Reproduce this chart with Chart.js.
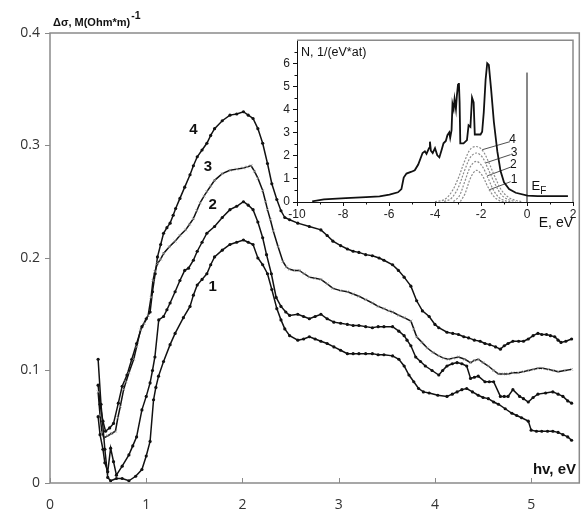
<!DOCTYPE html>
<html lang="en">
<head>
<meta charset="UTF-8">
<title>Conductivity change with DOS inset</title>
<script src="https://cdn.jsdelivr.net/npm/chart.js"></script>
<style>
    body { margin: 0; background: #ffffff; }
    .wrap { position: relative; width: 584px; height: 520px; }
    #mainChart { position: absolute; left: 0; top: 0; }
    #insetChart { position: absolute; left: 262px; top: 30px; }
</style>
</head>
<body>
<div class="wrap">
    <canvas id="mainChart" width="584" height="520"></canvas>
    <canvas id="insetChart" width="320" height="200"></canvas>
</div>
<script>
// ---- main plot data (photon energy, eV -> delta sigma) ----
const xTicks = [0, 1, 2, 3, 4, 5];
const yTicks = [0, 0.1, 0.2, 0.3, 0.4];
const yTickLabels = ['0', '0.1', '0.2', '0.3', '0.4'];

const x1 = [0.50,0.53,0.57,0.60,0.63,0.69,0.75,0.82,0.89,0.955,1.00,1.04,1.076,1.10,1.128,1.18,1.248,1.30,1.386,1.455,1.49,1.53,1.58,1.63,1.67,1.71,1.79,1.87,1.94,2.01,2.06,2.11,2.16,2.21,2.26,2.305,2.357,2.40,2.44,2.49,2.575,2.635,2.695,2.755,2.815,2.88,2.95,3.02,3.09,3.15,3.21,3.28,3.35,3.41,3.47,3.56,3.625,3.68,3.73,3.78,3.83,3.88,3.94,4.03,4.125,4.18,4.23,4.28,4.33,4.39,4.45,4.50,4.555,4.61,4.66,4.73,4.80,4.85,4.90,4.97,5.00,5.055,5.11,5.17,5.225,5.28,5.33,5.38,5.42];
const y1 = [0.110,0.070,0.030,0.005,0.002,0.004,0.004,0.002,0.006,0.012,0.024,0.037,0.074,0.085,0.095,0.108,0.123,0.133,0.147,0.157,0.167,0.176,0.181,0.186,0.194,0.201,0.207,0.212,0.214,0.216,0.214,0.212,0.200,0.194,0.186,0.172,0.155,0.145,0.137,0.131,0.127,0.128,0.130,0.128,0.126,0.124,0.121,0.118,0.115,0.115,0.115,0.115,0.115,0.114,0.114,0.113,0.110,0.104,0.096,0.090,0.084,0.081,0.080,0.078,0.077,0.079,0.081,0.083,0.084,0.081,0.078,0.076,0.075,0.072,0.070,0.066,0.062,0.060,0.058,0.055,0.047,0.046,0.046,0.046,0.046,0.045,0.043,0.041,0.038];

const x2 = [0.50,0.52,0.55,0.57,0.60,0.63,0.66,0.69,0.75,0.82,0.86,0.90,0.955,1.00,1.04,1.065,1.09,1.13,1.18,1.215,1.248,1.30,1.35,1.40,1.44,1.49,1.53,1.58,1.63,1.71,1.79,1.87,1.94,2.01,2.06,2.11,2.16,2.21,2.25,2.30,2.35,2.40,2.45,2.49,2.575,2.635,2.695,2.755,2.815,2.88,2.95,3.02,3.09,3.15,3.21,3.28,3.35,3.41,3.47,3.56,3.625,3.68,3.71,3.75,3.80,3.85,3.90,3.97,4.04,4.08,4.125,4.18,4.23,4.28,4.33,4.37,4.41,4.45,4.52,4.565,4.61,4.68,4.72,4.76,4.81,4.88,4.92,4.97,5.02,5.07,5.15,5.225,5.28,5.33,5.38,5.42];
const y2 = [0.059,0.043,0.030,0.018,0.010,0.031,0.019,0.007,0.015,0.025,0.033,0.041,0.065,0.077,0.089,0.100,0.112,0.145,0.148,0.154,0.160,0.170,0.180,0.189,0.191,0.198,0.206,0.214,0.222,0.228,0.236,0.243,0.246,0.250,0.247,0.243,0.232,0.218,0.203,0.186,0.165,0.157,0.152,0.149,0.150,0.148,0.146,0.148,0.150,0.146,0.143,0.142,0.141,0.140,0.140,0.139,0.138,0.139,0.139,0.139,0.135,0.131,0.127,0.122,0.112,0.108,0.104,0.100,0.096,0.100,0.104,0.106,0.107,0.106,0.104,0.093,0.094,0.095,0.090,0.090,0.090,0.077,0.077,0.077,0.083,0.077,0.075,0.072,0.076,0.079,0.080,0.081,0.079,0.077,0.073,0.071];

const x3 = [0.50,0.52,0.54,0.56,0.60,0.64,0.68,0.705,0.73,0.765,0.79,0.82,0.87,0.90,0.94,0.98,1.02,1.05,1.07,1.09,1.117,1.15,1.18,1.24,1.30,1.35,1.41,1.45,1.49,1.525,1.56,1.60,1.63,1.67,1.71,1.79,1.87,1.94,2.01,2.05,2.09,2.125,2.16,2.21,2.24,2.26,2.29,2.32,2.37,2.42,2.455,2.49,2.54,2.59,2.64,2.695,2.755,2.815,2.88,2.94,3.02,3.09,3.15,3.21,3.28,3.35,3.41,3.47,3.52,3.56,3.625,3.68,3.75,3.78,3.81,3.865,3.92,3.98,4.04,4.09,4.14,4.19,4.245,4.31,4.37,4.41,4.45,4.50,4.555,4.61,4.66,4.71,4.76,4.81,4.865,4.92,4.97,5.02,5.07,5.12,5.18,5.23,5.28,5.35,5.42];
const y3 = [0.081,0.060,0.045,0.040,0.042,0.044,0.046,0.058,0.068,0.083,0.090,0.098,0.110,0.121,0.136,0.142,0.149,0.165,0.180,0.188,0.195,0.199,0.204,0.210,0.215,0.220,0.225,0.230,0.235,0.242,0.249,0.255,0.259,0.264,0.269,0.275,0.278,0.279,0.280,0.281,0.282,0.277,0.271,0.260,0.250,0.243,0.234,0.224,0.210,0.197,0.192,0.190,0.189,0.189,0.186,0.183,0.182,0.181,0.177,0.173,0.171,0.170,0.168,0.166,0.163,0.160,0.157,0.155,0.153,0.152,0.149,0.147,0.144,0.137,0.130,0.125,0.120,0.116,0.113,0.111,0.110,0.111,0.112,0.110,0.107,0.109,0.110,0.107,0.104,0.100,0.097,0.097,0.097,0.098,0.098,0.099,0.100,0.101,0.102,0.102,0.101,0.100,0.099,0.100,0.101];

const x4 = [0.50,0.52,0.55,0.577,0.62,0.66,0.71,0.75,0.80,0.85,0.90,0.955,1.00,1.04,1.065,1.093,1.117,1.15,1.18,1.215,1.248,1.28,1.306,1.35,1.40,1.455,1.49,1.53,1.58,1.63,1.67,1.71,1.79,1.87,1.94,2.01,2.06,2.11,2.16,2.21,2.26,2.305,2.357,2.40,2.44,2.49,2.575,2.695,2.815,2.88,2.94,3.02,3.09,3.15,3.21,3.28,3.35,3.42,3.47,3.56,3.62,3.68,3.75,3.81,3.87,3.94,4.00,4.04,4.125,4.185,4.245,4.30,4.35,4.41,4.47,4.52,4.57,4.63,4.68,4.72,4.76,4.81,4.87,4.92,4.97,5.02,5.07,5.11,5.16,5.20,5.245,5.28,5.31,5.36,5.42];
const y4 = [0.087,0.070,0.055,0.046,0.049,0.053,0.071,0.086,0.096,0.110,0.124,0.139,0.146,0.152,0.170,0.186,0.201,0.212,0.222,0.227,0.231,0.238,0.244,0.253,0.263,0.274,0.282,0.290,0.296,0.302,0.309,0.315,0.322,0.327,0.328,0.330,0.327,0.324,0.315,0.302,0.284,0.266,0.252,0.242,0.236,0.234,0.231,0.228,0.225,0.220,0.215,0.211,0.208,0.206,0.205,0.203,0.202,0.200,0.198,0.194,0.189,0.183,0.175,0.162,0.153,0.148,0.141,0.138,0.134,0.133,0.132,0.130,0.129,0.127,0.126,0.124,0.123,0.121,0.119,0.122,0.124,0.126,0.126,0.126,0.128,0.131,0.133,0.132,0.132,0.131,0.130,0.127,0.125,0.126,0.128];

const curveLabels = ['1', '2', '3', '4'];
const curveLabelX = [1.69, 1.69, 1.64, 1.49];
const curveLabelY = [0.174, 0.247, 0.281, 0.314];

// ---- inset data (DOS, E in eV -> N) ----
const insetXTicks = [-10, -8, -6, -4, -2, 0, 2];
const insetYTicks = [0, 1, 2, 3, 4, 5, 6];
const dosE = [-9.34,-8.83,-7.88,-7.0,-6.41,-5.98,-5.61,-5.46,-5.36,-5.24,-5.02,-4.88,-4.73,-4.54,-4.44,-4.37,-4.26,-4.22,-4.18,-4.10,-4.00,-3.90,-3.81,-3.71,-3.63,-3.53,-3.46,-3.38,-3.34,-3.28,-3.24,-3.19,-3.15,-3.09,-3.05,-3.00,-2.96,-2.93,-2.90,-2.76,-2.61,-2.54,-2.46,-2.39,-2.32,-2.27,-2.02,-1.95,-1.88,-1.80,-1.73,-1.66,-1.56,-1.44,-1.29,-1.15,-1.0,-0.78,-0.49,0.02,0.46,1.78];
const dosN = [0.03,0.11,0.17,0.21,0.24,0.32,0.42,0.56,1.06,1.23,1.31,1.37,1.62,2.12,2.19,2.08,2.33,2.61,2.22,2.12,2.33,2.02,1.93,2.26,2.54,2.64,2.89,3.01,2.78,3.11,4.24,4.02,4.45,4.02,4.59,5.08,5.15,4.31,2.54,2.54,2.68,3.32,3.25,4.52,4.31,2.92,2.92,3.04,3.88,5.29,6.0,5.93,4.87,3.46,2.19,1.34,0.85,0.56,0.40,0.28,0.25,0.25];

const g4E = [-4.0,-3.6,-3.3,-3.0,-2.7,-2.45,-2.2,-1.95,-1.7,-1.4,-1.1,-0.8,-0.5,-0.25];
const g4N = [0.02,0.1,0.4,1.0,1.8,2.3,2.4,2.25,1.8,1.1,0.5,0.2,0.07,0.02];
const g3E = [-3.6,-3.3,-3.0,-2.7,-2.45,-2.2,-1.95,-1.7,-1.4,-1.1,-0.8,-0.5];
const g3N = [0.02,0.15,0.6,1.4,1.95,2.12,1.95,1.45,0.8,0.3,0.1,0.02];
const g2E = [-3.2,-2.95,-2.7,-2.45,-2.2,-1.95,-1.7,-1.45,-1.2,-0.9,-0.7];
const g2N = [0.02,0.25,0.9,1.55,1.76,1.55,1.05,0.5,0.18,0.04,0.01];
const g1E = [-2.9,-2.7,-2.45,-2.2,-1.95,-1.7,-1.45,-1.2,-0.95];
const g1N = [0.02,0.35,1.05,1.37,1.15,0.65,0.25,0.06,0.01];

const fermiE = [0, 0];
const fermiN = [0, 5.6];

// leader lines from each band to its number
const leadStartE = [-1.66, -1.73, -1.80, -1.95];
const leadStartN = [0.52, 1.13, 1.69, 2.26];
const leadEndE = [-0.71, -0.71, -0.71, -0.74];
const leadEndN = [0.88, 1.51, 2.05, 2.61];
const bandLabelE = [-0.56, -0.59, -0.56, -0.63];
const bandLabelN = [0.96, 1.6, 2.15, 2.68];

function pts(xs, ys) {
    return xs.map((x, i) => ({ x: x, y: ys[i] }));
}

// ---------------- main chart ----------------
const mainDecor = {
    id: 'mainDecor',
    afterDatasetsDraw(chart) {
        const ctx = chart.ctx;
        const a = chart.chartArea;
        const sx = chart.scales.x, sy = chart.scales.y;
        ctx.save();
        // frame
        ctx.strokeStyle = '#8a8a8a';
        ctx.lineWidth = 1.5;
        ctx.strokeRect(a.left, a.top, a.right - a.left, a.bottom - a.top);
        // inward x ticks
        ctx.lineWidth = 1;
        ctx.beginPath();
        xTicks.forEach(v => {
            const px = Math.round(sx.getPixelForValue(v)) + 0.5;
            ctx.moveTo(px, a.bottom);
            ctx.lineTo(px, a.bottom - 5);
        });
        ctx.stroke();
        // curve numbers
        ctx.fillStyle = '#111';
        ctx.font = 'bold 15px "Liberation Sans", Arial, sans-serif';
        ctx.textAlign = 'center';
        ctx.textBaseline = 'middle';
        curveLabels.forEach((t, i) => {
            ctx.fillText(t, sx.getPixelForValue(curveLabelX[i]), sy.getPixelForValue(curveLabelY[i]));
        });
        // axis titles
        ctx.textAlign = 'left';
        ctx.textBaseline = 'alphabetic';
        ctx.font = 'bold 11px "Liberation Sans", Arial, sans-serif';
        const t1 = 'Δσ, M(Ohm*m)';
        ctx.fillText(t1, 53, 26);
        const w1 = ctx.measureText(t1).width;
        ctx.font = 'bold 10.5px "Liberation Sans", Arial, sans-serif';
        ctx.fillText('-1', 53 + w1 + 1, 19);
        ctx.font = 'bold 15px "Liberation Sans", Arial, sans-serif';
        ctx.textAlign = 'right';
        ctx.fillText('hv, eV', 576, 474);
        ctx.restore();
    }
};

const lineStyle = {
    showLine: true,
    borderColor: '#111',
    borderWidth: 1.5,
    pointRadius: 1.6,
    pointBackgroundColor: '#111',
    pointBorderColor: '#111',
    pointBorderWidth: 0,
    tension: 0
};

new Chart(document.getElementById('mainChart'), {
    type: 'scatter',
    data: {
        datasets: [
            Object.assign({ label: '1', data: pts(x1, y1) }, lineStyle),
            Object.assign({ label: '2', data: pts(x2, y2) }, lineStyle),
            Object.assign({ label: '3', data: pts(x3, y3) }, lineStyle,
                { pointStyle: 'crossRot', pointRadius: 2, pointBorderColor: '#9a9a9a', pointBorderWidth: 0.7 }),
            Object.assign({ label: '4', data: pts(x4, y4) }, lineStyle)
        ]
    },
    options: {
        responsive: false,
        animation: false,
        layout: { padding: { top: 33, right: 3, left: 0, bottom: 0 } },
        plugins: { legend: { display: false }, tooltip: { enabled: false } },
        scales: {
            x: {
                type: 'linear', min: 0, max: 5.5,
                afterBuildTicks: s => { s.ticks = xTicks.map(v => ({ value: v })); },
                afterFit: s => { s.height = 37; },
                grid: { display: false, drawTicks: false },
                border: { display: false },
                ticks: {
                    padding: 14,
                    color: '#333',
                    font: { family: '"Open Sans", sans-serif', size: 14 },
                    maxRotation: 0
                }
            },
            y: {
                type: 'linear', min: 0, max: 0.4,
                afterBuildTicks: s => { s.ticks = yTicks.map(v => ({ value: v })); },
                afterFit: s => { s.width = 50; },
                grid: { drawOnChartArea: false, drawTicks: true, tickLength: 5, color: '#8a8a8a' },
                border: { display: false },
                ticks: {
                    padding: 5,
                    color: '#333',
                    font: { family: '"Open Sans", sans-serif', size: 14 },
                    callback: (v, i) => yTickLabels[i]
                }
            }
        }
    },
    plugins: [mainDecor]
});

// ---------------- inset chart ----------------
const insetDecor = {
    id: 'insetDecor',
    afterDatasetsDraw(chart) {
        const ctx = chart.ctx;
        const a = chart.chartArea;
        const sx = chart.scales.x, sy = chart.scales.y;
        ctx.save();
        // frame top and right
        ctx.strokeStyle = '#8a8a8a';
        ctx.lineWidth = 1.5;
        ctx.beginPath();
        ctx.moveTo(a.left, a.top);
        ctx.lineTo(a.right, a.top);
        ctx.lineTo(a.right, a.bottom);
        ctx.stroke();
        // minor ticks
        ctx.strokeStyle = '#111';
        ctx.lineWidth = 1;
        ctx.beginPath();
        for (let v = -9; v <= 1; v += 2) {
            const px = Math.round(sx.getPixelForValue(v)) + 0.5;
            ctx.moveTo(px, a.bottom);
            ctx.lineTo(px, a.bottom + 2.5);
        }
        for (let v = 0.5; v <= 6.5; v += 1) {
            const py = Math.round(sy.getPixelForValue(v)) + 0.5;
            ctx.moveTo(a.left, py);
            ctx.lineTo(a.left - 2.5, py);
        }
        ctx.stroke();
        // texts
        ctx.fillStyle = '#111';
        ctx.font = '12.5px "Liberation Sans", Arial, sans-serif';
        ctx.textBaseline = 'alphabetic';
        ctx.textAlign = 'left';
        ctx.fillText('N, 1/(eV*at)', a.left + 4, a.top + 16);
        ctx.font = '14px "Liberation Sans", Arial, sans-serif';
        ctx.textAlign = 'right';
        ctx.fillText('E, eV', a.right, a.bottom + 25);
        // Fermi level label
        ctx.textAlign = 'left';
        const ex = sx.getPixelForValue(0.2), ey = sy.getPixelForValue(0.5);
        ctx.font = '13px "Liberation Sans", Arial, sans-serif';
        ctx.fillText('E', ex, ey);
        const we = ctx.measureText('E').width;
        ctx.font = '10px "Liberation Sans", Arial, sans-serif';
        ctx.fillText('F', ex + we, ey + 4);
        // band numbers
        ctx.font = '12px "Liberation Sans", Arial, sans-serif';
        ctx.textAlign = 'center';
        ctx.textBaseline = 'middle';
        curveLabels.forEach((t, i) => {
            ctx.fillText(t, sx.getPixelForValue(bandLabelE[i]), sy.getPixelForValue(bandLabelN[i]));
        });
        ctx.restore();
    }
};

const bandStyle = {
    showLine: true, borderColor: '#8c8c8c', borderWidth: 1.2,
    borderDash: [2, 1.5], pointRadius: 0, tension: 0.35
};
const leadStyle = { showLine: true, borderColor: '#222', borderWidth: 0.8, pointRadius: 0 };

const insetSets = [
    Object.assign({ data: pts(g4E, g4N) }, bandStyle),
    Object.assign({ data: pts(g3E, g3N) }, bandStyle),
    Object.assign({ data: pts(g2E, g2N) }, bandStyle),
    Object.assign({ data: pts(g1E, g1N) }, bandStyle),
    { data: pts(dosE, dosN), showLine: true, borderColor: '#111', borderWidth: 1.8, pointRadius: 0, tension: 0 },
    { data: pts(fermiE, fermiN), showLine: true, borderColor: '#111', borderWidth: 1, pointRadius: 0 }
];
leadStartE.forEach((e, i) => {
    insetSets.push(Object.assign({
        data: pts([e, leadEndE[i]], [leadStartN[i], leadEndN[i]])
    }, leadStyle));
});

new Chart(document.getElementById('insetChart'), {
    type: 'scatter',
    data: { datasets: insetSets },
    options: {
        responsive: false,
        animation: false,
        layout: { padding: { top: 6, right: 9, left: 0, bottom: 0 } },
        plugins: { legend: { display: false }, tooltip: { enabled: false } },
        scales: {
            x: {
                type: 'linear', min: -10, max: 2,
                afterBuildTicks: s => { s.ticks = insetXTicks.map(v => ({ value: v })); },
                afterFit: s => { s.height = 28; },
                grid: { drawOnChartArea: false, drawTicks: true, tickLength: 4, color: '#111' },
                border: { display: true, color: '#111', width: 1 },
                ticks: {
                    padding: 1,
                    color: '#222',
                    font: { family: '"Liberation Sans", Arial, sans-serif', size: 12 },
                    maxRotation: 0
                }
            },
            y: {
                type: 'linear', min: 0, max: 7,
                afterBuildTicks: s => { s.ticks = insetYTicks.map(v => ({ value: v })); },
                afterFit: s => { s.width = 35; },
                grid: { drawOnChartArea: false, drawTicks: true, tickLength: 4, color: '#111' },
                border: { display: true, color: '#111', width: 1 },
                ticks: {
                    padding: 3,
                    color: '#222',
                    font: { family: '"Liberation Sans", Arial, sans-serif', size: 12 }
                }
            }
        }
    },
    plugins: [insetDecor]
});
</script>
</body>
</html>
